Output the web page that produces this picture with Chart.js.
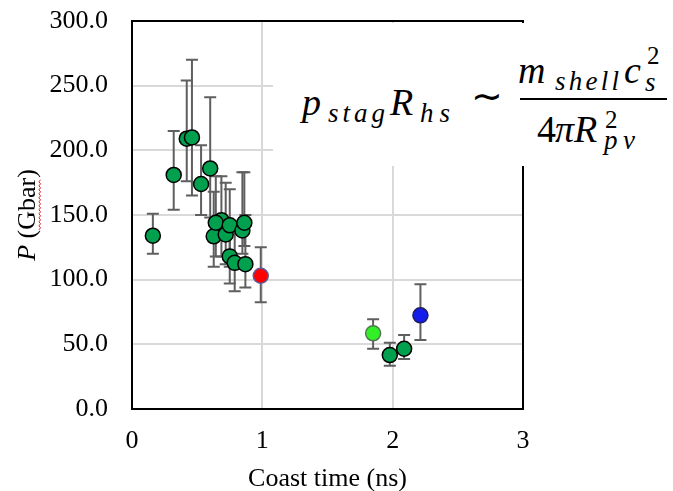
<!DOCTYPE html>
<html>
<head>
<meta charset="utf-8">
<script src="https://cdn.jsdelivr.net/npm/chart.js@4.4.1/dist/chart.umd.min.js"></script>
<style>
    body { margin: 0; background: #fff; }
    #wrap { position: relative; width: 673px; height: 491px; }
    #eq { position: absolute; left: 0; top: 0; pointer-events: none; }
    #eq text { font-family: "Liberation Serif", serif; font-weight: 400; fill: #000; }
    #eq .it { font-style: italic; }
</style>
</head>
<body>
<div id="wrap">
    <canvas id="myChart" width="673" height="491"></canvas>
    <svg id="eq" width="673" height="491">
        <rect x="273" y="23" width="400" height="143" fill="#fff"></rect>
        <text class="it" x="302" y="115" font-size="38">p</text>
        <text class="it" x="328" y="122" font-size="27" textLength="57" lengthAdjust="spacing">stag</text>
        <text class="it" x="390" y="115" font-size="38">R</text>
        <text class="it" x="420" y="122" font-size="27" textLength="30" lengthAdjust="spacing">hs</text>
        <text x="471" y="109" font-size="38">∼</text>
        <text class="it" x="518" y="83" font-size="38">m</text>
        <text class="it" x="555" y="90" font-size="27" textLength="64" lengthAdjust="spacing">shell</text>
        <text class="it" x="624" y="83" font-size="38">c</text>
        <text x="647" y="64" font-size="25">2</text>
        <text class="it" x="645" y="91" font-size="27">s</text>
        <rect x="520" y="98" width="147" height="2" fill="#000"></rect>
        <text x="537" y="142" font-size="38">4</text>
        <text class="it" x="555" y="142" font-size="38">π</text>
        <text class="it" x="574" y="142" font-size="38">R</text>
        <text x="605" y="128" font-size="25">2</text>
        <text class="it" x="604" y="149" font-size="27" textLength="31" lengthAdjust="spacing">pv</text>
    </svg>
</div>
<script>
// dark green shots
const greenTime = [0.16, 0.32, 0.42, 0.46, 0.53, 0.60, 0.627, 0.686, 0.643, 0.719, 0.75, 0.75, 0.788, 0.847, 0.862, 0.87, 1.978, 2.088];
const greenP    = [134, 181, 209, 210, 174, 186, 133.5, 146, 144, 135, 142, 118, 113, 138, 144, 112, 41.7, 46.6];
const greenHi   = [151, 215, 254, 270, 204, 241, 168, 180, 180, 175, 170, 142, 140, 183, 183, 150, 51.2, 57.2];
const greenLo   = [120, 154, 176, 165, 150, 148, 110, 118, 118, 112, 110, 97, 91, 120, 126, 94, 33.5, 38.6];

// highlighted shots
const redTime = [0.988],  redP = [103],    redHi = [125],   redLo = [82.5];
const limeTime = [1.85],  limeP = [58.5],  limeHi = [69.3], limeLo = [46.6];
const blueTime = [2.213], blueP = [72.4],  blueHi = [96.4], blueLo = [53.3];

const xTicks = [0, 1, 2, 3];
const yTicks = [0, 50, 100, 150, 200, 250, 300];

function pts(xs, ys) {
    return xs.map((x, i) => ({ x: x, y: ys[i] }));
}

const serif = '"Liberation Serif", "Times New Roman", serif';

// error bars, drawn under the markers
const errorBars = {
    id: 'errorBars',
    beforeDatasetsDraw(chart) {
        const c = chart.ctx;
        const xs = chart.scales.x, ys = chart.scales.y;
        c.save();
        c.strokeStyle = 'rgb(95, 95, 95)';
        c.lineWidth = 2;
        chart.data.datasets.forEach(ds => {
            ds.data.forEach((p, i) => {
                const px = xs.getPixelForValue(p.x);
                const top = ys.getPixelForValue(ds.hi[i]);
                const bot = ys.getPixelForValue(ds.lo[i]);
                c.beginPath();
                c.moveTo(px, top); c.lineTo(px, bot);
                c.moveTo(px - 6, top); c.lineTo(px + 6, top);
                c.moveTo(px - 6, bot); c.lineTo(px + 6, bot);
                c.stroke();
            });
        });
        c.restore();
    }
};

// box round the plot and the y title
const frame = {
    id: 'frame',
    beforeDatasetsDraw(chart) {
        const a = chart.chartArea, c = chart.ctx;
        c.save();
        c.strokeStyle = '#000';
        c.lineWidth = 2;
        c.strokeRect(a.left, a.top, a.right - a.left, a.bottom - a.top);
        c.restore();
    },
    afterDraw(chart) {
        const c = chart.ctx;
        c.save();
        c.translate(35, 215);
        c.rotate(-Math.PI / 2);
        c.fillStyle = '#000';
        c.textBaseline = 'alphabetic';
        c.font = 'italic 26px ' + serif;
        const wP = c.measureText('P').width;
        c.font = '26px ' + serif;
        const wRest = c.measureText(' (Gbar)').width;
        const wOpen = c.measureText(' (').width;
        const wG = c.measureText('Gbar').width;
        let x0 = -(wP + wRest) / 2;
        c.font = 'italic 26px ' + serif;
        c.fillText('P', x0, 0);
        c.font = '26px ' + serif;
        c.fillText(' (Gbar)', x0 + wP, 0);
        // spell-check squiggle
        c.strokeStyle = '#e02020';
        c.lineWidth = 1;
        c.beginPath();
        const ux = x0 + wP + wOpen;
        for (let k = 0; k <= wG; k += 2) {
            const yy = 4 + ((k / 2) % 2 ? 1.5 : 0);
            if (k === 0) c.moveTo(ux + k, yy); else c.lineTo(ux + k, yy);
        }
        c.stroke();
        c.restore();
    }
};

const ctx = document.getElementById('myChart');
new Chart(ctx, {
    type: 'scatter',
    data: {
        datasets: [{
            data: pts(greenTime, greenP), hi: greenHi, lo: greenLo,
            backgroundColor: 'rgb(0, 160, 78)',
            borderColor: '#000',
        }, {
            data: pts(redTime, redP), hi: redHi, lo: redLo,
            backgroundColor: 'rgb(255, 0, 0)',
            borderColor: 'rgb(90, 90, 150)',
        }, {
            data: pts(limeTime, limeP), hi: limeHi, lo: limeLo,
            backgroundColor: 'rgb(50, 240, 40)',
            borderColor: 'rgb(80, 120, 80)',
        }, {
            data: pts(blueTime, blueP), hi: blueHi, lo: blueLo,
            backgroundColor: 'rgb(20, 30, 235)',
            borderColor: 'rgb(30, 30, 90)',
        }]
    },
    options: {
        responsive: false,
        animation: false,
        elements: {
            point: { radius: 7.5, borderWidth: 1.5, hoverRadius: 7.5 }
        },
        layout: {
            padding: { top: 21, right: 150, left: 0, bottom: 0 }
        },
        plugins: {
            legend: { display: false },
            tooltip: { enabled: false }
        },
        scales: {
            x: {
                type: 'linear',
                min: 0,
                max: 3,
                afterFit: s => { s.height = 82; },
                afterBuildTicks: s => { s.ticks = xTicks.map(v => ({ value: v })); },
                ticks: {
                    color: '#000',
                    padding: 17,
                    font: { family: serif, size: 26 },
                    callback: v => String(v)
                },
                grid: { color: '#d9d9d9', lineWidth: 2, drawTicks: false },
                border: { color: '#000', width: 2 },
                title: {
                    display: true,
                    text: 'Coast time (ns)',
                    color: '#000',
                    padding: { top: 0, bottom: -4 },
                    font: { family: serif, size: 26 }
                }
            },
            y: {
                min: 0,
                max: 300,
                afterFit: s => { s.width = 132; s.paddingTop = 0; s.paddingBottom = 0; },
                afterBuildTicks: s => { s.ticks = yTicks.map(v => ({ value: v })); },
                ticks: {
                    color: '#000',
                    padding: 24,
                    font: { family: serif, size: 26 },
                    callback: v => v.toFixed(1)
                },
                grid: { color: '#d9d9d9', lineWidth: 2, drawTicks: false },
                border: { color: '#000', width: 2 }
            }
        }
    },
    plugins: [errorBars, frame]
});
</script>
</body>
</html>
